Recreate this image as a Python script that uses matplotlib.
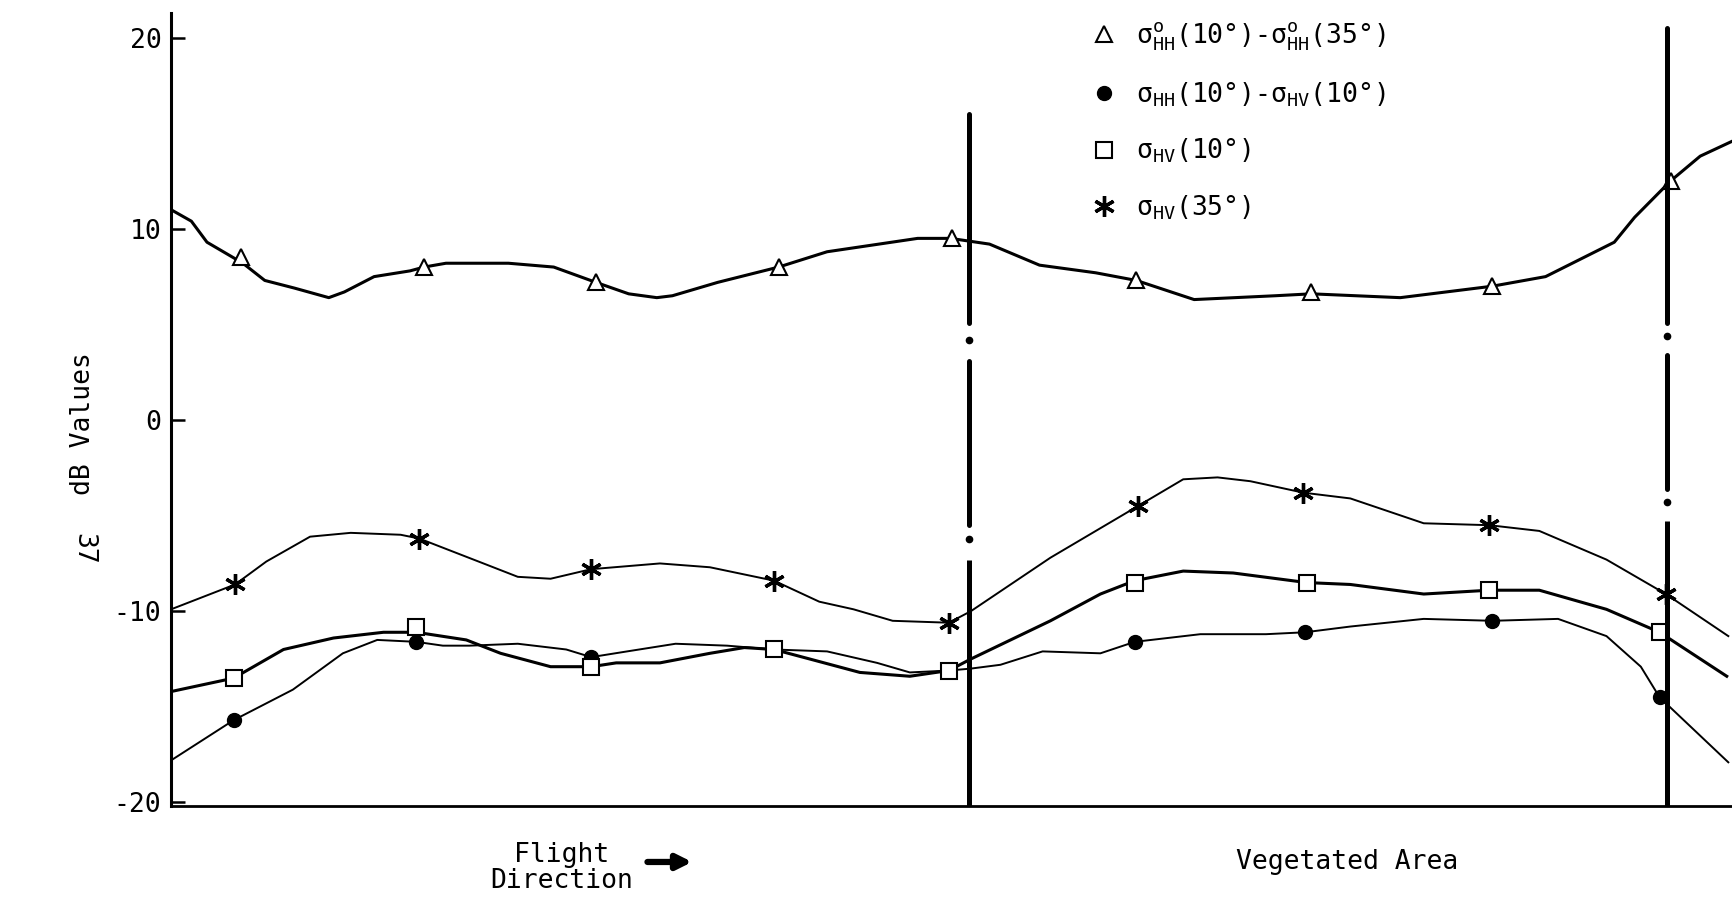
import matplotlib

matplotlib.use("Agg")
import matplotlib.pyplot as plt

plt.rcParams["axes.unicode_minus"] = False
plt.rcParams["mathtext.fontset"] = "dejavusans"
MONO = "DejaVu Sans Mono"

# position along the flight line (0-100, arbitrary units); dB values
# sigma_HH(10) - sigma_HH(35), triangles
tri_curve_x = [0, 1.3, 2.3, 4.6, 6.0, 7.9, 10.1, 11.1, 13.0, 15.3, 16.2, 17.6, 21.6,
               24.5, 27.2, 29.3, 31.1, 32.1, 35.0, 38.9, 42.0, 47.8, 49.9, 52.4, 55.6,
               59.2, 61.8, 65.5, 70.7, 73.0, 78.7, 84.6, 88.0, 92.4, 93.7, 96.0, 97.9, 100]
tri_curve_y = [11.0, 10.4, 9.3, 8.2, 7.3, 6.9, 6.4, 6.7, 7.5, 7.8, 8.0, 8.2, 8.2,
               8.0, 7.2, 6.6, 6.4, 6.5, 7.2, 8.0, 8.8, 9.5, 9.5, 9.2, 8.1,
               7.7, 7.3, 6.3, 6.5, 6.6, 6.4, 7.0, 7.5, 9.3, 10.6, 12.5, 13.8, 14.6]
tri_x = [4.5, 16.2, 27.2, 38.9, 50.0, 61.8, 73.0, 84.6, 96.0]
tri_y = [8.5, 8.0, 7.2, 8.0, 9.5, 7.3, 6.7, 7.0, 12.5]

# sigma_HV(35), asterisks
star_curve_x = [0, 4.1, 6.1, 8.9, 11.5, 14.7, 15.9, 20.0, 22.2, 24.3, 26.9, 31.3, 34.5,
                38.6, 41.5, 43.7, 46.2, 49.8, 51.2, 56.3, 61.9, 64.8, 67.0, 69.1, 72.5,
                75.5, 80.2, 84.4, 87.6, 91.9, 95.7, 99.7]
star_curve_y = [-9.9, -8.6, -7.4, -6.1, -5.9, -6.0, -6.2, -7.5, -8.2, -8.3, -7.8, -7.5, -7.7,
                -8.4, -9.5, -9.9, -10.5, -10.6, -10.0, -7.2, -4.5, -3.1, -3.0, -3.2, -3.8,
                -4.1, -5.4, -5.5, -5.8, -7.3, -9.1, -11.3]
star_x = [4.1, 15.9, 26.9, 38.6, 49.8, 61.9, 72.5, 84.4, 95.7]
star_y = [-8.6, -6.2, -7.8, -8.4, -10.6, -4.5, -3.8, -5.5, -9.1]

# sigma_HV(10), squares
sq_curve_x = [0, 4.0, 7.2, 10.4, 13.6, 15.7, 18.9, 21.1, 24.3, 26.9, 28.5, 31.3, 34.5,
              36.7, 38.6, 40.9, 44.1, 47.3, 49.8, 51.2, 56.3, 59.5, 61.7, 64.8, 68.0,
              72.7, 75.5, 80.2, 84.4, 87.6, 91.9, 95.3, 99.6]
sq_curve_y = [-14.2, -13.5, -12.0, -11.4, -11.1, -11.1, -11.5, -12.2, -12.9, -12.9, -12.7,
              -12.7, -12.2, -11.9, -12.0, -12.5, -13.2, -13.4, -13.1, -12.5, -10.5, -9.1,
              -8.4, -7.9, -8.0, -8.5, -8.6, -9.1, -8.9, -8.9, -9.9, -11.1, -13.4]
sq_x = [4.0, 15.7, 26.9, 38.6, 49.8, 61.7, 72.7, 84.4, 95.3]
sq_y = [-13.5, -10.8, -12.9, -12.0, -13.1, -8.5, -8.5, -8.9, -11.1]

# sigma_HH(10) - sigma_HV(10), dots
dot_curve_x = [0, 4.0, 7.8, 11.0, 13.2, 15.7, 17.4, 19.1, 22.2, 25.3, 26.9, 29.2, 32.3,
               35.6, 38.6, 42.0, 45.2, 47.3, 49.8, 51.2, 53.1, 55.8, 59.5, 61.7, 65.9,
               70.1, 72.6, 75.5, 80.2, 84.6, 88.8, 91.9, 94.1, 95.3, 99.7]
dot_curve_y = [-17.8, -15.7, -14.1, -12.2, -11.5, -11.6, -11.8, -11.8, -11.7, -12.0, -12.4,
               -12.1, -11.7, -11.8, -12.0, -12.1, -12.7, -13.2, -13.1, -13.0, -12.8, -12.1,
               -12.2, -11.6, -11.2, -11.2, -11.1, -10.8, -10.4, -10.5, -10.4, -11.3, -12.9,
               -14.5, -17.9]
dot_x = [4.0, 15.7, 26.9, 38.6, 49.8, 61.7, 72.6, 84.6, 95.3]
dot_y = [-15.7, -11.6, -12.4, -12.0, -13.1, -11.6, -11.1, -10.5, -14.5]

# dash-dot boundary lines: position, top, and the two gaps (each with a dot)
bound_x = [51.1, 95.75]
bound_top = [16.0, 20.5]
bound_gap1 = [(5.1, 3.1, 4.2), (5.1, 3.4, 4.4)]
bound_gap2 = [(-5.5, -7.3, -6.2), (-3.6, -5.3, -4.3)]

legend_labels = [
    r"$\mathregular{\sigma^{o}_{HH}}$(10°)-$\mathregular{\sigma^{o}_{HH}}$(35°)",
    r"$\mathregular{\sigma_{HH}}$(10°)-$\mathregular{\sigma_{HV}}$(10°)",
    r"$\mathregular{\sigma_{HV}}$(10°)",
    r"$\mathregular{\sigma_{HV}}$(35°)",
]

fig = plt.figure(figsize=(17.33, 9.06), dpi=100)
ax = fig.add_axes([0.0987, 0.1107, 0.9013, 0.8746])

ax.plot(tri_curve_x, tri_curve_y, color="k", lw=2.2, solid_joinstyle="round")
ax.plot(star_curve_x, star_curve_y, color="k", lw=1.4, solid_joinstyle="round")
ax.plot(sq_curve_x, sq_curve_y, color="k", lw=2.2, solid_joinstyle="round")
ax.plot(dot_curve_x, dot_curve_y, color="k", lw=1.4, solid_joinstyle="round")

h_tri, = ax.plot(tri_x, tri_y, ls="none", marker="^", ms=11, mfc="white", mec="k", mew=1.5)
h_dot, = ax.plot(dot_x, dot_y, ls="none", marker="o", ms=10, mfc="k", mec="k")
h_sq, = ax.plot(sq_x, sq_y, ls="none", marker="s", ms=12, mfc="white", mec="k", mew=1.5)
h_star, = ax.plot(star_x, star_y, ls="none", marker=(6, 2, 0), ms=15, mec="k", mew=2.4)

for bx, top, g1, g2 in zip(bound_x, bound_top, bound_gap1, bound_gap2):
    ax.plot([bx, bx], [top, g1[0]], color="k", lw=3.6, solid_capstyle="round")
    ax.plot([bx, bx], [g1[1], g2[0]], color="k", lw=3.6, solid_capstyle="round")
    ax.plot([bx, bx], [g2[1], -20.17], color="k", lw=3.6, solid_capstyle="butt")
    ax.plot([bx, bx], [g1[2], g2[2]], ls="none", marker="o", ms=4.5, color="k")

ax.set_xlim(0, 100)
ax.set_ylim(-20.17, 21.27)
ax.set_xticks([])
ax.set_yticks([-20, -10, 0, 10, 20])
ax.set_yticklabels(["-20", "-10", "0", "10", "20"], family=MONO, fontsize=19)
ax.tick_params(axis="y", direction="in", length=10, width=1.8, pad=7)
ax.spines["top"].set_visible(False)
ax.spines["right"].set_visible(False)
ax.spines["left"].set_linewidth(2.2)
ax.spines["bottom"].set_linewidth(2.0)

fig.legend([h_tri, h_dot, h_sq, h_star], legend_labels, loc="upper left",
           bbox_to_anchor=(0.622, 0.992), frameon=False,
           prop={"family": MONO, "size": 19}, handlelength=1.0,
           handletextpad=0.7, labelspacing=1.05, borderpad=0)

fig.text(0.0479, 0.533, "dB Values", rotation=90, ha="center", va="center",
         family=MONO, fontsize=19)
fig.text(0.0479, 0.394, "37", rotation=-90, ha="center", va="center",
         family=MONO, fontsize=19)
fig.text(0.324, 0.042, "Flight\nDirection", ha="center", va="center",
         multialignment="center", family=MONO, fontsize=19, linespacing=1.0)
fig.text(0.7774, 0.0486, "Vegetated Area", ha="center", va="center",
         family=MONO, fontsize=19)
ax.annotate("", xy=(0.401, 0.0486), xytext=(0.372, 0.0486),
            xycoords="figure fraction", textcoords="figure fraction",
            arrowprops=dict(arrowstyle="-|>", lw=4.5, color="k", mutation_scale=22))

fig.savefig("out.png", dpi=100, facecolor="white")
